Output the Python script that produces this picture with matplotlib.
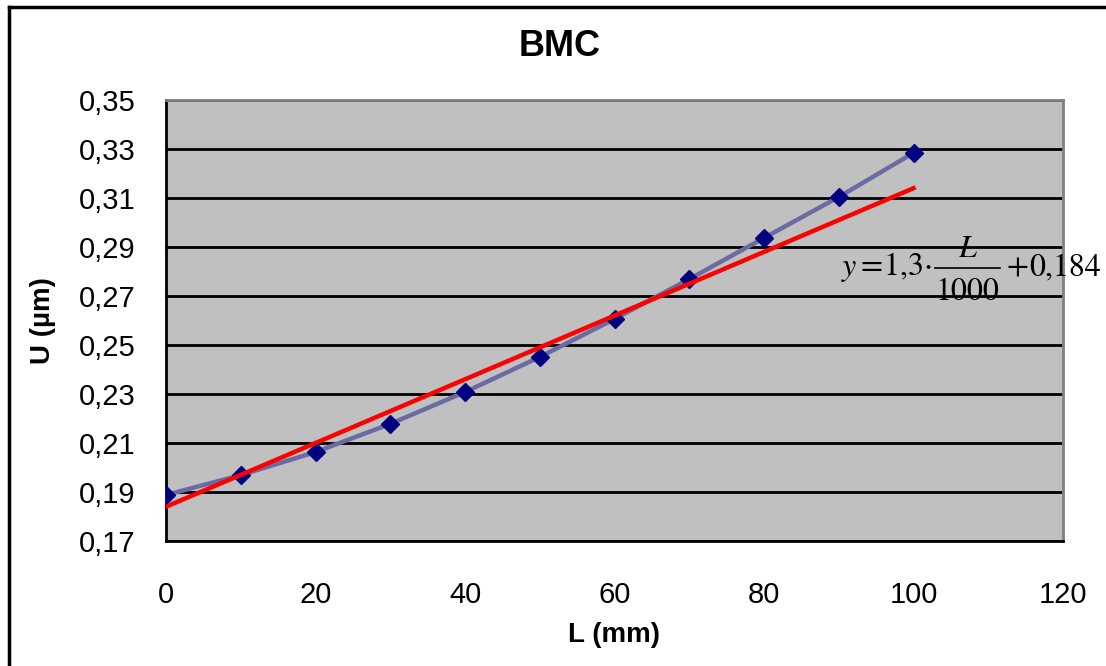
import matplotlib
matplotlib.use("Agg")
import matplotlib.pyplot as plt
from matplotlib.lines import Line2D
from matplotlib.ticker import FuncFormatter

# measured values
L_mm = [0, 10, 20, 30, 40, 50, 60, 70, 80, 90, 100]
U_um = [0.1888, 0.1969, 0.2063, 0.2178, 0.2308, 0.2451, 0.2606, 0.2769, 0.2937, 0.3104, 0.3284]

# linear fit shown on the chart: y = 1,3*L/1000 + 0,184
U_fit = [0.184, 0.197, 0.210, 0.223, 0.236, 0.249, 0.262, 0.275, 0.288, 0.301, 0.314]

x_ticks = [0, 20, 40, 60, 80, 100, 120]
y_ticks = [0.17, 0.19, 0.21, 0.23, 0.25, 0.27, 0.29, 0.31, 0.33, 0.35]

plt.rcParams['font.family'] = ['Liberation Sans', 'DejaVu Sans']
plt.rcParams['mathtext.fontset'] = 'stix'

W, H = 1106, 666
fig = plt.figure(figsize=(W / 100, H / 100), dpi=100)
ax = fig.add_axes([166 / W, 1 - 541 / H, 897 / W, 441 / H])
ax.set_facecolor('#C0C0C0')

ax.plot(L_mm, U_um, color='#6B6BA3', lw=3.2, marker='D', ms=9,
        mfc='#000080', mec='#000080', zorder=3)
ax.plot(L_mm, U_fit, color='#FF0000', lw=3.2, zorder=4)

ax.set_xlim(0, 120)
ax.set_ylim(0.17, 0.35)
ax.set_xticks(x_ticks)
ax.set_yticks(y_ticks)
ax.yaxis.set_major_formatter(FuncFormatter(lambda v, p: f"{v:.2f}".replace('.', ',')))
ax.tick_params(length=0, labelsize=21)
ax.tick_params(axis='y', pad=22)
ax.tick_params(axis='x', pad=29)
ax.grid(axis='y', color='black', lw=2)
ax.set_axisbelow(True)

for s in ['left', 'bottom']:
    ax.spines[s].set_color('black')
    ax.spines[s].set_linewidth(2)
for s in ['top', 'right']:
    ax.spines[s].set_color('#808080')
    ax.spines[s].set_linewidth(2)

fig.text(560 / W, 1 - 47 / H, 'BMC', fontsize=26, fontweight='bold',
         ha='center', va='center')
ax.set_xlabel('L (mm)', fontsize=20, fontweight='bold', labelpad=9)
ax.set_ylabel('U (µm)', fontsize=20, fontweight='bold', labelpad=16)

# trend line equation, set piece by piece like the Word equation
eq = dict(fontsize=23, family=['STIXGeneral', 'DejaVu Serif'], va='baseline')
base = 1 - 275 / H
fig.text(842 / W, base, 'y', style='italic', ha='left', **eq)
fig.text(860 / W, base, '=', ha='left', **eq)
fig.text(883 / W, base, r'$1{,}3\!\cdot$', ha='left', **eq)
fig.text(967 / W, 1 - 257 / H, 'L', style='italic', ha='center', **eq)
fig.text(967 / W, 1 - 300 / H, '1000', ha='center', **eq)
fig.add_artist(Line2D([935 / W, 1000 / W], [1 - 268 / H, 1 - 268 / H], color='black',
                      lw=1.2, transform=fig.transFigure))
fig.text(1007 / W, base, '+', ha='left', **eq)
fig.text(1029 / W, base, '0,184', ha='left', **eq)

# outer chart border
fig.add_artist(Line2D([9 / W, 9 / W], [0, 1 - 7 / H], color='black', lw=2.5, transform=fig.transFigure))
fig.add_artist(Line2D([9 / W, 1], [1 - 7 / H, 1 - 7 / H], color='black', lw=2.5, transform=fig.transFigure))

fig.savefig('out.png', dpi=100)
